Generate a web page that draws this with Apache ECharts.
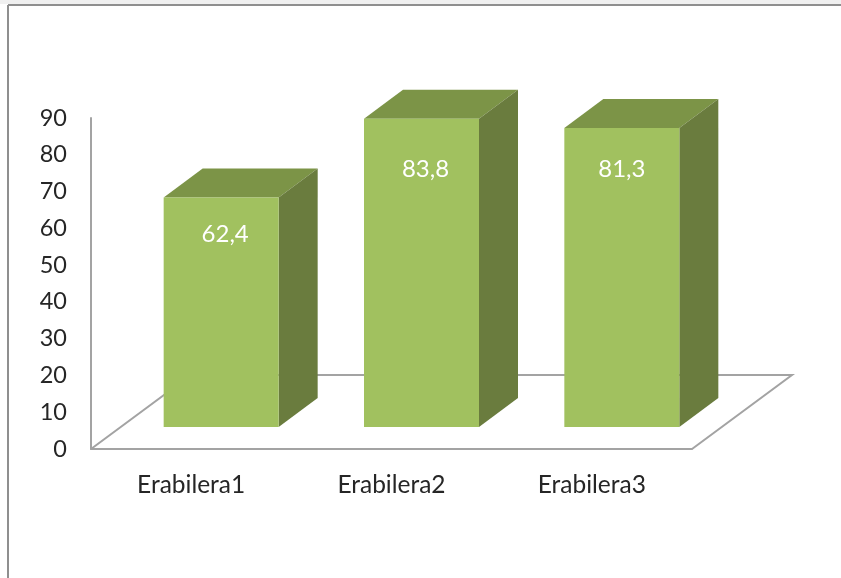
<!DOCTYPE html>
<html>
<head>
<meta charset="utf-8">
<style>html,body{margin:0;padding:0;background:#fff}#c{width:841px;height:578px}</style>
<script src="https://cdn.jsdelivr.net/npm/echarts@6/dist/echarts.min.js"></script>
</head>
<body>
<div id="c"></div>
<script>
const categories = ['Erabilera1', 'Erabilera2', 'Erabilera3'];
const values = [62.4, 83.8, 81.3];
const tickMax = 90;
const tickStep = 10;

const FONT = 'Lato';
const TEXT = '#262626';
const LINE = '#a3a3a3';
const FRONT = '#a1c15f', TOP = '#7c9447', SIDE = '#6a7c3e';
const DX = 39, DY = 29;             // box depth
const BASE_DX = 30, BASE_DY = 22;   // box base shift from the axis floor
const BAR_W = 115;
const LABEL_DROP = [37, 50, 41];
const LABEL_DX = [4, 4, 0];

function renderBox(params, api) {
  const i = api.value(0);
  const top = api.coord([i, api.value(1)]);
  const base = api.coord([i, 0]);
  const xl = top[0] + BASE_DX - BAR_W / 2, xr = xl + BAR_W;
  const yt = top[1] - BASE_DY, yb = base[1] - BASE_DY;
  const poly = (points, fill) => ({type: 'polygon', shape: {points}, style: {fill, stroke: null}});
  return {
    type: 'group',
    children: [
      poly([[xl, yt], [xr, yt], [xr + DX, yt - DY], [xl + DX, yt - DY]], TOP),
      poly([[xr, yt], [xr + DX, yt - DY], [xr + DX, yb - DY], [xr, yb]], SIDE),
      poly([[xl, yt], [xr, yt], [xr, yb], [xl, yb]], FRONT),
      {
        type: 'text',
        x: (xl + xr) / 2 + LABEL_DX[i],
        y: yt + LABEL_DROP[i],
        style: {
          text: api.value(1).toFixed(1).replace('.', ','),
          fill: '#fff', font: '24px ' + FONT, align: 'center', verticalAlign: 'middle'
        }
      }
    ]
  };
}

function renderFloor(params) {
  const r = params.coordSys;
  const x0 = r.x, x1 = r.x + r.width, y0 = r.y + r.height;
  const fdx = 100, fdy = 74;
  return {
    type: 'polyline',
    shape: {points: [[x0, y0], [x0 + fdx, y0 - fdy], [x1 + fdx, y0 - fdy], [x1, y0]]},
    style: {stroke: LINE, lineWidth: 2, fill: null}
  };
}

const chart = echarts.init(document.getElementById('c'), null, {renderer: 'canvas'});
chart.setOption({
  animation: false,
  backgroundColor: '#fff',
  grid: {left: 91, top: 118, width: 601, height: 331, containLabel: false},
  xAxis: {
    type: 'category',
    data: categories,
    axisTick: {show: false},
    axisLine: {lineStyle: {color: LINE, width: 2}},
    axisLabel: {color: TEXT, fontFamily: FONT, fontSize: 24.5, margin: 24}
  },
  yAxis: {
    type: 'value',
    min: 0,
    max: tickMax,
    interval: tickStep,
    splitLine: {show: false},
    axisTick: {show: false},
    axisLine: {show: true, lineStyle: {color: LINE, width: 2}},
    axisLabel: {color: TEXT, fontFamily: FONT, fontSize: 23.5, margin: 24, padding: [2, 0, 0, 0]}
  },
  graphic: [
    {type: 'rect', shape: {x: 0, y: 0, width: 841, height: 4}, style: {fill: '#f0f0f0'}, z: 0},
    {type: 'line', shape: {x1: 8, y1: 5, x2: 841, y2: 5}, style: {stroke: '#8f8f8f', lineWidth: 2}, z: 0},
    {type: 'line', shape: {x1: 8, y1: 5, x2: 8, y2: 578}, style: {stroke: '#8f8f8f', lineWidth: 2}, z: 0}
  ],
  series: [
    {type: 'custom', data: [[0]], renderItem: renderFloor, z: 1, silent: true},
    {
      type: 'custom',
      data: values.map((v, i) => [i, v]),
      encode: {x: 0, y: 1},
      renderItem: renderBox,
      z: 3
    }
  ]
});
</script>
</body>
</html>
